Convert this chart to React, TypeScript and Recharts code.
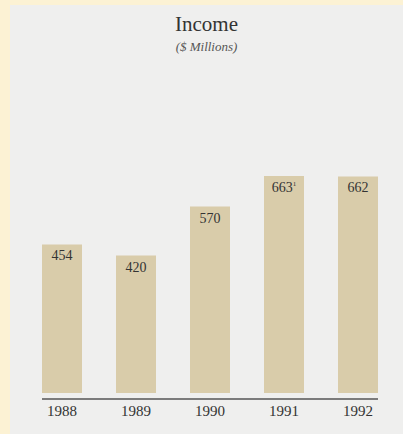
import React from 'react';
import { BarChart, Bar, XAxis, YAxis, LabelList, ReferenceLine } from 'recharts';

const years = ['1988', '1989', '1990', '1991', '1992'];
const income = [454, 420, 570, 663, 662];
const footnotes = ['', '', '', '1', ''];

const data = years.map((year, i) => ({ year, income: income[i], note: footnotes[i] }));

const SERIF = '"Liberation Serif", "DejaVu Serif", serif';

const ValueLabel = (props: any) => {
  const { x, y, width, value, index } = props;
  const note = footnotes[index];
  return (
    <text
      x={x + width / 2}
      y={y + 16}
      textAnchor="middle"
      fontFamily={SERIF}
      fontSize={14}
      fill="#333"
    >
      {value}
      {note ? (
        <tspan fontSize={7} dy={-6}>
          {note}
        </tspan>
      ) : null}
    </text>
  );
};

const BaseLine = (props: any) => {
  const { x1, x2, y1 } = props;
  return <line x1={x1 + 17} x2={x2 - 17} y1={y1 + 6} y2={y1 + 6} stroke="#555" strokeWidth={1.5} />;
};

export default function App() {
  return (
    <div style={{ position: 'fixed', left: 0, top: 0, width: 403, height: 434, background: '#fcf2d4', overflow: 'hidden' }}>
      <div style={{ position: 'absolute', left: 10, top: 5, width: 393, height: 429, background: '#efefee' }} />
      <div
        style={{
          position: 'absolute',
          left: 10,
          width: 393,
          top: 12,
          textAlign: 'center',
          fontFamily: SERIF,
          fontSize: 21,
          color: '#333',
        }}
      >
        Income
      </div>
      <div
        style={{
          position: 'absolute',
          left: 10,
          width: 393,
          top: 39,
          textAlign: 'center',
          fontFamily: SERIF,
          fontStyle: 'italic',
          fontSize: 13,
          color: '#555',
        }}
      >
        ($ Millions)
      </div>
      <div style={{ position: 'absolute', left: 0, top: 0 }}>
        <BarChart width={403} height={434} data={data} margin={{ top: 164, right: 8, left: 25, bottom: 0 }}>
          <YAxis hide domain={[0, 700]} />
          <XAxis
            dataKey="year"
            height={41}
            axisLine={false}
            tickLine={false}
            tick={{ fontFamily: SERIF, fontSize: 15, fill: '#333' }}
            dy={4}
          />
          <ReferenceLine y={0} shape={<BaseLine />} />
          <Bar dataKey="income" fill="#d9ccaa" barSize={40} isAnimationActive={false}>
            <LabelList dataKey="income" content={<ValueLabel />} />
          </Bar>
        </BarChart>
      </div>
    </div>
  );
}
